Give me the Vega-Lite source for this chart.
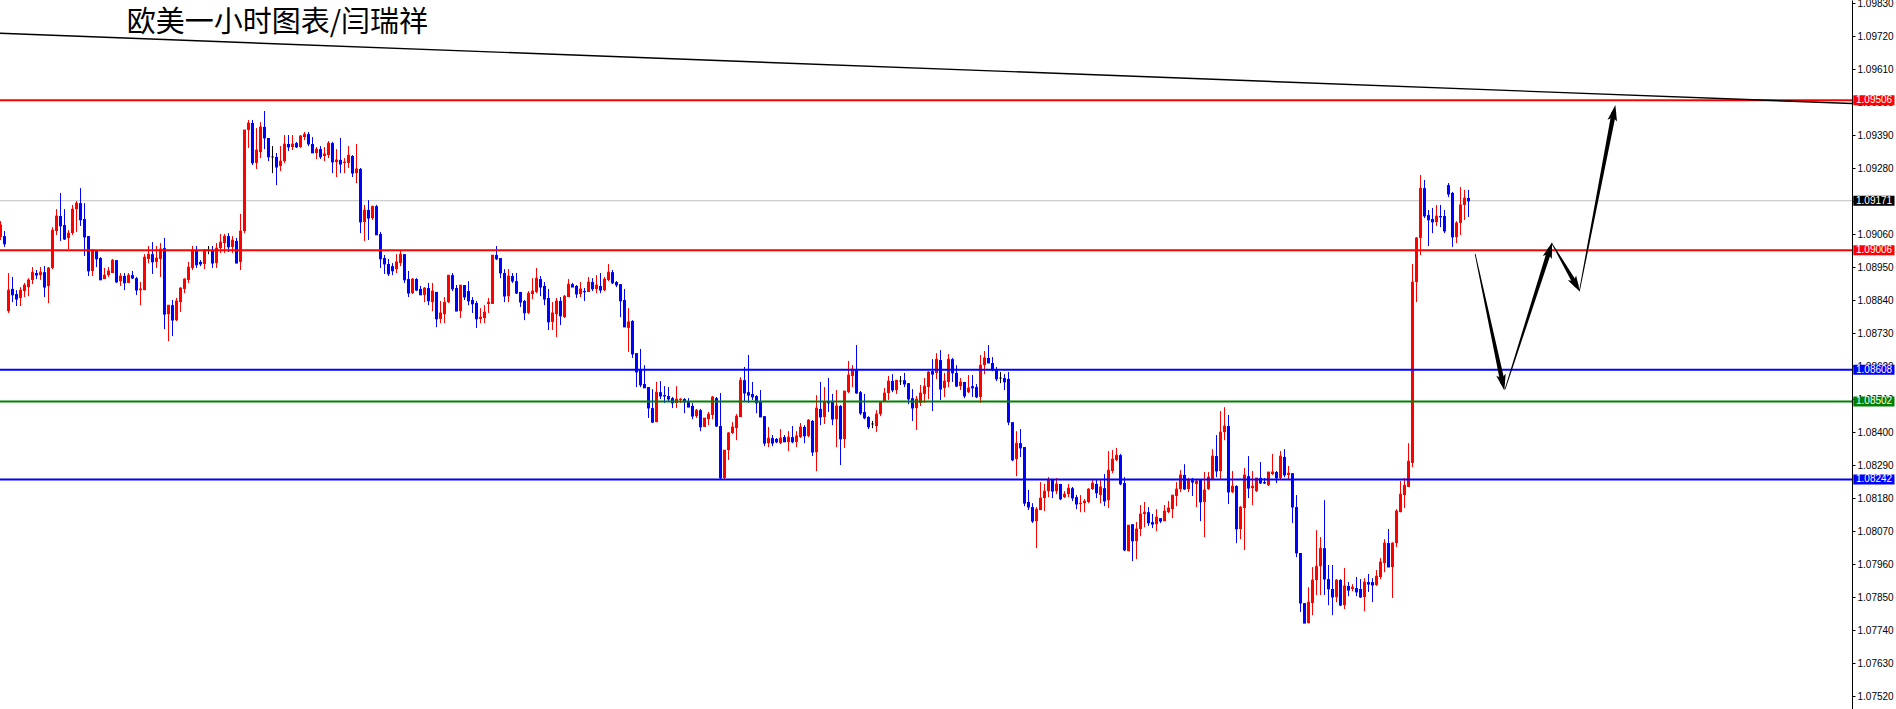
{
"$schema":"https://vega.github.io/schema/vega-lite/v6.json",
"width":1852,"height":709,"autosize":"none",
"padding":{"left":0,"top":0,"right":44,"bottom":0},
"background":"#ffffff",
"config":{"view":{"stroke":null},"scale":{"continuousPadding":0}},
"resolve":{"axis":{"x":"independent","y":"independent"}},
"datasets":{
"k":[
{"i":0,"o":1.09050,"h":1.09103,"l":1.09040,"c":1.09090},
{"i":1,"o":1.09053,"h":1.09070,"l":1.09017,"c":1.09027},
{"i":2,"o":1.08803,"h":1.08930,"l":1.08797,"c":1.08873},
{"i":3,"o":1.08877,"h":1.08917,"l":1.08833,"c":1.08857},
{"i":4,"o":1.08860,"h":1.08873,"l":1.08820,"c":1.08843},
{"i":5,"o":1.08847,"h":1.08883,"l":1.08820,"c":1.08873},
{"i":6,"o":1.08870,"h":1.08897,"l":1.08850,"c":1.08890},
{"i":7,"o":1.08883,"h":1.08913,"l":1.08853,"c":1.08907},
{"i":8,"o":1.08907,"h":1.08950,"l":1.08893,"c":1.08933},
{"i":9,"o":1.08930,"h":1.08940,"l":1.08910,"c":1.08923},
{"i":10,"o":1.08923,"h":1.08950,"l":1.08907,"c":1.08933},
{"i":11,"o":1.08933,"h":1.08953,"l":1.08850,"c":1.08883},
{"i":12,"o":1.08887,"h":1.08950,"l":1.08830,"c":1.08947},
{"i":13,"o":1.08947,"h":1.09083,"l":1.08943,"c":1.09073},
{"i":14,"o":1.09070,"h":1.09143,"l":1.09057,"c":1.09120},
{"i":15,"o":1.09120,"h":1.09197,"l":1.09037,"c":1.09087},
{"i":16,"o":1.09090,"h":1.09143,"l":1.09040,"c":1.09043},
{"i":17,"o":1.09047,"h":1.09073,"l":1.09010,"c":1.09063},
{"i":18,"o":1.09063,"h":1.09157,"l":1.09057,"c":1.09143},
{"i":19,"o":1.09143,"h":1.09170,"l":1.09067,"c":1.09163},
{"i":20,"o":1.09163,"h":1.09213,"l":1.09087,"c":1.09107},
{"i":21,"o":1.09110,"h":1.09163,"l":1.08987,"c":1.09050},
{"i":22,"o":1.09053,"h":1.09053,"l":1.08920,"c":1.08937},
{"i":23,"o":1.08937,"h":1.09007,"l":1.08920,"c":1.09007},
{"i":24,"o":1.09003,"h":1.09007,"l":1.08950,"c":1.08977},
{"i":25,"o":1.08980,"h":1.08983,"l":1.08907,"c":1.08907},
{"i":26,"o":1.08910,"h":1.08947,"l":1.08910,"c":1.08923},
{"i":27,"o":1.08923,"h":1.08950,"l":1.08917,"c":1.08937},
{"i":28,"o":1.08930,"h":1.08977,"l":1.08930,"c":1.08973},
{"i":29,"o":1.08973,"h":1.08973,"l":1.08897,"c":1.08900},
{"i":30,"o":1.08903,"h":1.08930,"l":1.08887,"c":1.08920},
{"i":31,"o":1.08920,"h":1.08930,"l":1.08873,"c":1.08897},
{"i":32,"o":1.08897,"h":1.08930,"l":1.08897,"c":1.08923},
{"i":33,"o":1.08923,"h":1.08937,"l":1.08910,"c":1.08913},
{"i":34,"o":1.08913,"h":1.08917,"l":1.08857,"c":1.08873},
{"i":35,"o":1.08873,"h":1.08900,"l":1.08823,"c":1.08877},
{"i":36,"o":1.08873,"h":1.08993,"l":1.08873,"c":1.08983},
{"i":37,"o":1.08977,"h":1.09020,"l":1.08963,"c":1.08993},
{"i":38,"o":1.08993,"h":1.09033,"l":1.08927,"c":1.08967},
{"i":39,"o":1.08967,"h":1.09020,"l":1.08947,"c":1.08980},
{"i":40,"o":1.08977,"h":1.09030,"l":1.08917,"c":1.09010},
{"i":41,"o":1.09013,"h":1.09047,"l":1.08743,"c":1.08793},
{"i":42,"o":1.08793,"h":1.08823,"l":1.08703,"c":1.08823},
{"i":43,"o":1.08823,"h":1.08840,"l":1.08720,"c":1.08773},
{"i":44,"o":1.08773,"h":1.08847,"l":1.08770,"c":1.08837},
{"i":45,"o":1.08833,"h":1.08883,"l":1.08800,"c":1.08880},
{"i":46,"o":1.08877,"h":1.08913,"l":1.08863,"c":1.08910},
{"i":47,"o":1.08907,"h":1.08967,"l":1.08897,"c":1.08950},
{"i":48,"o":1.08947,"h":1.09020,"l":1.08940,"c":1.09007},
{"i":49,"o":1.09007,"h":1.09020,"l":1.08947,"c":1.08957},
{"i":50,"o":1.08967,"h":1.08973,"l":1.08953,"c":1.08960},
{"i":51,"o":1.08960,"h":1.09010,"l":1.08943,"c":1.09007},
{"i":52,"o":1.09007,"h":1.09020,"l":1.08993,"c":1.09007},
{"i":53,"o":1.09007,"h":1.09020,"l":1.08947,"c":1.08963},
{"i":54,"o":1.08963,"h":1.09030,"l":1.08947,"c":1.09013},
{"i":55,"o":1.09013,"h":1.09060,"l":1.08997,"c":1.09033},
{"i":56,"o":1.09030,"h":1.09060,"l":1.08997,"c":1.09053},
{"i":57,"o":1.09053,"h":1.09063,"l":1.09000,"c":1.09017},
{"i":58,"o":1.09017,"h":1.09053,"l":1.08997,"c":1.09040},
{"i":59,"o":1.09037,"h":1.09047,"l":1.08963,"c":1.08963},
{"i":60,"o":1.08967,"h":1.09127,"l":1.08940,"c":1.09070},
{"i":61,"o":1.09070,"h":1.09407,"l":1.09063,"c":1.09407},
{"i":62,"o":1.09407,"h":1.09440,"l":1.09347,"c":1.09430},
{"i":63,"o":1.09430,"h":1.09440,"l":1.09290,"c":1.09297},
{"i":64,"o":1.09297,"h":1.09413,"l":1.09277,"c":1.09340},
{"i":65,"o":1.09333,"h":1.09433,"l":1.09313,"c":1.09417},
{"i":66,"o":1.09417,"h":1.09470,"l":1.09343,"c":1.09380},
{"i":67,"o":1.09380,"h":1.09380,"l":1.09303,"c":1.09317},
{"i":68,"o":1.09317,"h":1.09353,"l":1.09263,"c":1.09317},
{"i":69,"o":1.09317,"h":1.09330,"l":1.09223,"c":1.09283},
{"i":70,"o":1.09287,"h":1.09353,"l":1.09270,"c":1.09303},
{"i":71,"o":1.09303,"h":1.09390,"l":1.09297,"c":1.09360},
{"i":72,"o":1.09360,"h":1.09390,"l":1.09337,"c":1.09350},
{"i":73,"o":1.09350,"h":1.09390,"l":1.09340,"c":1.09360},
{"i":74,"o":1.09363,"h":1.09367,"l":1.09347,"c":1.09350},
{"i":75,"o":1.09350,"h":1.09390,"l":1.09347,"c":1.09387},
{"i":76,"o":1.09383,"h":1.09400,"l":1.09373,"c":1.09393},
{"i":77,"o":1.09393,"h":1.09400,"l":1.09353,"c":1.09360},
{"i":78,"o":1.09360,"h":1.09383,"l":1.09330,"c":1.09330},
{"i":79,"o":1.09330,"h":1.09350,"l":1.09310,"c":1.09343},
{"i":80,"o":1.09343,"h":1.09353,"l":1.09310,"c":1.09317},
{"i":81,"o":1.09320,"h":1.09350,"l":1.09303,"c":1.09327},
{"i":82,"o":1.09323,"h":1.09370,"l":1.09313,"c":1.09363},
{"i":83,"o":1.09363,"h":1.09367,"l":1.09263,"c":1.09300},
{"i":84,"o":1.09300,"h":1.09343,"l":1.09250,"c":1.09307},
{"i":85,"o":1.09307,"h":1.09380,"l":1.09263,"c":1.09293},
{"i":86,"o":1.09297,"h":1.09313,"l":1.09263,"c":1.09300},
{"i":87,"o":1.09297,"h":1.09353,"l":1.09280,"c":1.09323},
{"i":88,"o":1.09320,"h":1.09323,"l":1.09250,"c":1.09263},
{"i":89,"o":1.09263,"h":1.09360,"l":1.09230,"c":1.09277},
{"i":90,"o":1.09277,"h":1.09280,"l":1.09063,"c":1.09100},
{"i":91,"o":1.09100,"h":1.09157,"l":1.09037,"c":1.09140},
{"i":92,"o":1.09140,"h":1.09173,"l":1.09040,"c":1.09113},
{"i":93,"o":1.09113,"h":1.09153,"l":1.09107,"c":1.09153},
{"i":94,"o":1.09153,"h":1.09157,"l":1.09057,"c":1.09057},
{"i":95,"o":1.09060,"h":1.09067,"l":1.08947,"c":1.08977},
{"i":96,"o":1.08980,"h":1.08990,"l":1.08927,"c":1.08960},
{"i":97,"o":1.08960,"h":1.08977,"l":1.08920,"c":1.08927},
{"i":98,"o":1.08953,"h":1.08963,"l":1.08923,"c":1.08937},
{"i":99,"o":1.08943,"h":1.08993,"l":1.08930,"c":1.08967},
{"i":100,"o":1.08963,"h":1.09007,"l":1.08953,"c":1.08993},
{"i":101,"o":1.08993,"h":1.08993,"l":1.08897,"c":1.08907},
{"i":102,"o":1.08910,"h":1.08937,"l":1.08850,"c":1.08863},
{"i":103,"o":1.08863,"h":1.08913,"l":1.08860,"c":1.08910},
{"i":104,"o":1.08910,"h":1.08913,"l":1.08870,"c":1.08873},
{"i":105,"o":1.08877,"h":1.08887,"l":1.08857,"c":1.08857},
{"i":106,"o":1.08857,"h":1.08883,"l":1.08833,"c":1.08880},
{"i":107,"o":1.08880,"h":1.08897,"l":1.08823,"c":1.08837},
{"i":108,"o":1.08833,"h":1.08897,"l":1.08803,"c":1.08870},
{"i":109,"o":1.08867,"h":1.08867,"l":1.08750,"c":1.08777},
{"i":110,"o":1.08777,"h":1.08837,"l":1.08763,"c":1.08797},
{"i":111,"o":1.08793,"h":1.08850,"l":1.08763,"c":1.08833},
{"i":112,"o":1.08833,"h":1.08923,"l":1.08830,"c":1.08923},
{"i":113,"o":1.08923,"h":1.08930,"l":1.08870,"c":1.08877},
{"i":114,"o":1.08880,"h":1.08890,"l":1.08803,"c":1.08803},
{"i":115,"o":1.08803,"h":1.08890,"l":1.08780,"c":1.08890},
{"i":116,"o":1.08890,"h":1.08890,"l":1.08840,"c":1.08850},
{"i":117,"o":1.08870,"h":1.08903,"l":1.08823,"c":1.08837},
{"i":118,"o":1.08840,"h":1.08850,"l":1.08797,"c":1.08827},
{"i":119,"o":1.08830,"h":1.08837,"l":1.08747,"c":1.08777},
{"i":120,"o":1.08777,"h":1.08813,"l":1.08763,"c":1.08783},
{"i":121,"o":1.08780,"h":1.08823,"l":1.08763,"c":1.08800},
{"i":122,"o":1.08827,"h":1.08847,"l":1.08797,"c":1.08833},
{"i":123,"o":1.08827,"h":1.08990,"l":1.08827,"c":1.08990},
{"i":124,"o":1.08990,"h":1.09020,"l":1.08973,"c":1.08977},
{"i":125,"o":1.08980,"h":1.08980,"l":1.08913,"c":1.08930},
{"i":126,"o":1.08930,"h":1.08943,"l":1.08833,"c":1.08853},
{"i":127,"o":1.08853,"h":1.08943,"l":1.08833,"c":1.08920},
{"i":128,"o":1.08920,"h":1.08930,"l":1.08897,"c":1.08903},
{"i":129,"o":1.08903,"h":1.08930,"l":1.08860,"c":1.08863},
{"i":130,"o":1.08867,"h":1.08867,"l":1.08817,"c":1.08833},
{"i":131,"o":1.08837,"h":1.08840,"l":1.08773,"c":1.08797},
{"i":132,"o":1.08797,"h":1.08870,"l":1.08793,"c":1.08863},
{"i":133,"o":1.08860,"h":1.08913,"l":1.08843,"c":1.08870},
{"i":134,"o":1.08867,"h":1.08947,"l":1.08863,"c":1.08913},
{"i":135,"o":1.08910,"h":1.08920,"l":1.08853,"c":1.08883},
{"i":136,"o":1.08887,"h":1.08900,"l":1.08823,"c":1.08843},
{"i":137,"o":1.08847,"h":1.08877,"l":1.08740,"c":1.08767},
{"i":138,"o":1.08767,"h":1.08833,"l":1.08740,"c":1.08797},
{"i":139,"o":1.08793,"h":1.08847,"l":1.08717,"c":1.08837},
{"i":140,"o":1.08837,"h":1.08850,"l":1.08757,"c":1.08787},
{"i":141,"o":1.08783,"h":1.08857,"l":1.08780,"c":1.08853},
{"i":142,"o":1.08850,"h":1.08910,"l":1.08850,"c":1.08893},
{"i":143,"o":1.08893,"h":1.08897,"l":1.08883,"c":1.08883},
{"i":144,"o":1.08887,"h":1.08890,"l":1.08847,"c":1.08860},
{"i":145,"o":1.08860,"h":1.08900,"l":1.08850,"c":1.08877},
{"i":146,"o":1.08870,"h":1.08880,"l":1.08837,"c":1.08867},
{"i":147,"o":1.08867,"h":1.08917,"l":1.08867,"c":1.08900},
{"i":148,"o":1.08900,"h":1.08913,"l":1.08870,"c":1.08877},
{"i":149,"o":1.08877,"h":1.08923,"l":1.08863,"c":1.08890},
{"i":150,"o":1.08887,"h":1.08930,"l":1.08863,"c":1.08873},
{"i":151,"o":1.08873,"h":1.08917,"l":1.08870,"c":1.08910},
{"i":152,"o":1.08907,"h":1.08960,"l":1.08903,"c":1.08933},
{"i":153,"o":1.08933,"h":1.08940,"l":1.08893,"c":1.08897},
{"i":154,"o":1.08900,"h":1.08903,"l":1.08883,"c":1.08890},
{"i":155,"o":1.08893,"h":1.08893,"l":1.08783,"c":1.08837},
{"i":156,"o":1.08840,"h":1.08877,"l":1.08750,"c":1.08750},
{"i":157,"o":1.08747,"h":1.08813,"l":1.08667,"c":1.08767},
{"i":158,"o":1.08770,"h":1.08773,"l":1.08647,"c":1.08660},
{"i":159,"o":1.08663,"h":1.08663,"l":1.08550,"c":1.08600},
{"i":160,"o":1.08607,"h":1.08677,"l":1.08550,"c":1.08557},
{"i":161,"o":1.08560,"h":1.08623,"l":1.08547,"c":1.08547},
{"i":162,"o":1.08550,"h":1.08550,"l":1.08447,"c":1.08480},
{"i":163,"o":1.08480,"h":1.08543,"l":1.08430,"c":1.08433},
{"i":164,"o":1.08433,"h":1.08567,"l":1.08433,"c":1.08533},
{"i":165,"o":1.08533,"h":1.08570,"l":1.08510,"c":1.08520},
{"i":166,"o":1.08523,"h":1.08553,"l":1.08497,"c":1.08520},
{"i":167,"o":1.08520,"h":1.08550,"l":1.08503,"c":1.08510},
{"i":168,"o":1.08513,"h":1.08517,"l":1.08480,"c":1.08497},
{"i":169,"o":1.08497,"h":1.08553,"l":1.08480,"c":1.08510},
{"i":170,"o":1.08507,"h":1.08513,"l":1.08497,"c":1.08510},
{"i":171,"o":1.08510,"h":1.08513,"l":1.08463,"c":1.08500},
{"i":172,"o":1.08500,"h":1.08513,"l":1.08483,"c":1.08483},
{"i":173,"o":1.08487,"h":1.08497,"l":1.08443,"c":1.08453},
{"i":174,"o":1.08453,"h":1.08477,"l":1.08447,"c":1.08473},
{"i":175,"o":1.08473,"h":1.08477,"l":1.08403,"c":1.08417},
{"i":176,"o":1.08417,"h":1.08447,"l":1.08417,"c":1.08447},
{"i":177,"o":1.08443,"h":1.08467,"l":1.08423,"c":1.08460},
{"i":178,"o":1.08457,"h":1.08520,"l":1.08443,"c":1.08517},
{"i":179,"o":1.08513,"h":1.08517,"l":1.08417,"c":1.08420},
{"i":180,"o":1.08420,"h":1.08530,"l":1.08240,"c":1.08247},
{"i":181,"o":1.08247,"h":1.08340,"l":1.08240,"c":1.08340},
{"i":182,"o":1.08340,"h":1.08400,"l":1.08307,"c":1.08397},
{"i":183,"o":1.08397,"h":1.08433,"l":1.08393,"c":1.08417},
{"i":184,"o":1.08413,"h":1.08460,"l":1.08373,"c":1.08453},
{"i":185,"o":1.08450,"h":1.08583,"l":1.08450,"c":1.08573},
{"i":186,"o":1.08573,"h":1.08617,"l":1.08500,"c":1.08530},
{"i":187,"o":1.08533,"h":1.08657,"l":1.08497,"c":1.08523},
{"i":188,"o":1.08527,"h":1.08567,"l":1.08507,"c":1.08517},
{"i":189,"o":1.08520,"h":1.08523,"l":1.08463,"c":1.08497},
{"i":190,"o":1.08503,"h":1.08540,"l":1.08450,"c":1.08450},
{"i":191,"o":1.08453,"h":1.08453,"l":1.08353,"c":1.08363},
{"i":192,"o":1.08363,"h":1.08417,"l":1.08350,"c":1.08380},
{"i":193,"o":1.08380,"h":1.08390,"l":1.08353,"c":1.08363},
{"i":194,"o":1.08377,"h":1.08380,"l":1.08363,"c":1.08367},
{"i":195,"o":1.08363,"h":1.08410,"l":1.08360,"c":1.08380},
{"i":196,"o":1.08383,"h":1.08390,"l":1.08367,"c":1.08367},
{"i":197,"o":1.08367,"h":1.08403,"l":1.08337,"c":1.08383},
{"i":198,"o":1.08383,"h":1.08420,"l":1.08363,"c":1.08367},
{"i":199,"o":1.08367,"h":1.08403,"l":1.08350,"c":1.08387},
{"i":200,"o":1.08383,"h":1.08430,"l":1.08380,"c":1.08417},
{"i":201,"o":1.08417,"h":1.08423,"l":1.08363,"c":1.08387},
{"i":202,"o":1.08387,"h":1.08443,"l":1.08383,"c":1.08440},
{"i":203,"o":1.08437,"h":1.08440,"l":1.08320,"c":1.08333},
{"i":204,"o":1.08333,"h":1.08523,"l":1.08270,"c":1.08480},
{"i":205,"o":1.08477,"h":1.08567,"l":1.08423,"c":1.08450},
{"i":206,"o":1.08450,"h":1.08550,"l":1.08427,"c":1.08500},
{"i":207,"o":1.08500,"h":1.08580,"l":1.08467,"c":1.08497},
{"i":208,"o":1.08500,"h":1.08527,"l":1.08423,"c":1.08443},
{"i":209,"o":1.08443,"h":1.08540,"l":1.08350,"c":1.08487},
{"i":210,"o":1.08487,"h":1.08490,"l":1.08290,"c":1.08377},
{"i":211,"o":1.08377,"h":1.08537,"l":1.08347,"c":1.08537},
{"i":212,"o":1.08533,"h":1.08637,"l":1.08530,"c":1.08590},
{"i":213,"o":1.08587,"h":1.08623,"l":1.08550,"c":1.08610},
{"i":214,"o":1.08610,"h":1.08690,"l":1.08527,"c":1.08530},
{"i":215,"o":1.08533,"h":1.08537,"l":1.08457,"c":1.08463},
{"i":216,"o":1.08467,"h":1.08527,"l":1.08443,"c":1.08447},
{"i":217,"o":1.08450,"h":1.08453,"l":1.08410,"c":1.08417},
{"i":218,"o":1.08427,"h":1.08437,"l":1.08413,"c":1.08427},
{"i":219,"o":1.08420,"h":1.08473,"l":1.08400,"c":1.08460},
{"i":220,"o":1.08460,"h":1.08503,"l":1.08453,"c":1.08500},
{"i":221,"o":1.08500,"h":1.08547,"l":1.08500,"c":1.08530},
{"i":222,"o":1.08530,"h":1.08587,"l":1.08507,"c":1.08570},
{"i":223,"o":1.08570,"h":1.08593,"l":1.08533,"c":1.08540},
{"i":224,"o":1.08540,"h":1.08573,"l":1.08527,"c":1.08573},
{"i":225,"o":1.08570,"h":1.08587,"l":1.08557,"c":1.08570},
{"i":226,"o":1.08573,"h":1.08597,"l":1.08550,"c":1.08560},
{"i":227,"o":1.08563,"h":1.08563,"l":1.08493,"c":1.08510},
{"i":228,"o":1.08513,"h":1.08543,"l":1.08437,"c":1.08480},
{"i":229,"o":1.08480,"h":1.08520,"l":1.08407,"c":1.08510},
{"i":230,"o":1.08497,"h":1.08557,"l":1.08487,"c":1.08530},
{"i":231,"o":1.08527,"h":1.08580,"l":1.08497,"c":1.08553},
{"i":232,"o":1.08550,"h":1.08603,"l":1.08510,"c":1.08600},
{"i":233,"o":1.08603,"h":1.08643,"l":1.08470,"c":1.08593},
{"i":234,"o":1.08597,"h":1.08663,"l":1.08577,"c":1.08643},
{"i":235,"o":1.08640,"h":1.08673,"l":1.08507,"c":1.08543},
{"i":236,"o":1.08547,"h":1.08597,"l":1.08517,"c":1.08570},
{"i":237,"o":1.08567,"h":1.08660,"l":1.08550,"c":1.08643},
{"i":238,"o":1.08643,"h":1.08647,"l":1.08567,"c":1.08597},
{"i":239,"o":1.08597,"h":1.08623,"l":1.08550,"c":1.08553},
{"i":240,"o":1.08553,"h":1.08580,"l":1.08540,"c":1.08567},
{"i":241,"o":1.08567,"h":1.08567,"l":1.08513,"c":1.08520},
{"i":242,"o":1.08533,"h":1.08590,"l":1.08530,"c":1.08547},
{"i":243,"o":1.08553,"h":1.08590,"l":1.08517,"c":1.08547},
{"i":244,"o":1.08550,"h":1.08560,"l":1.08513,"c":1.08517},
{"i":245,"o":1.08517,"h":1.08657,"l":1.08497,"c":1.08623},
{"i":246,"o":1.08623,"h":1.08670,"l":1.08593,"c":1.08647},
{"i":247,"o":1.08647,"h":1.08690,"l":1.08630,"c":1.08630},
{"i":248,"o":1.08630,"h":1.08650,"l":1.08603,"c":1.08607},
{"i":249,"o":1.08610,"h":1.08617,"l":1.08570,"c":1.08577},
{"i":250,"o":1.08580,"h":1.08600,"l":1.08563,"c":1.08580},
{"i":251,"o":1.08580,"h":1.08593,"l":1.08540,"c":1.08567},
{"i":252,"o":1.08577,"h":1.08600,"l":1.08423,"c":1.08433},
{"i":253,"o":1.08433,"h":1.08433,"l":1.08303,"c":1.08307},
{"i":254,"o":1.08310,"h":1.08403,"l":1.08253,"c":1.08363},
{"i":255,"o":1.08363,"h":1.08410,"l":1.08317,"c":1.08347},
{"i":256,"o":1.08350,"h":1.08350,"l":1.08153,"c":1.08163},
{"i":257,"o":1.08167,"h":1.08207,"l":1.08140,"c":1.08150},
{"i":258,"o":1.08150,"h":1.08163,"l":1.08097,"c":1.08103},
{"i":259,"o":1.08103,"h":1.08150,"l":1.08013,"c":1.08143},
{"i":260,"o":1.08140,"h":1.08233,"l":1.08140,"c":1.08180},
{"i":261,"o":1.08180,"h":1.08227,"l":1.08137,"c":1.08203},
{"i":262,"o":1.08203,"h":1.08250,"l":1.08183,"c":1.08240},
{"i":263,"o":1.08240,"h":1.08240,"l":1.08180,"c":1.08203},
{"i":264,"o":1.08203,"h":1.08247,"l":1.08193,"c":1.08227},
{"i":265,"o":1.08227,"h":1.08227,"l":1.08173,"c":1.08177},
{"i":266,"o":1.08183,"h":1.08203,"l":1.08180,"c":1.08193},
{"i":267,"o":1.08193,"h":1.08227,"l":1.08183,"c":1.08213},
{"i":268,"o":1.08213,"h":1.08217,"l":1.08170,"c":1.08180},
{"i":269,"o":1.08183,"h":1.08190,"l":1.08143,"c":1.08160},
{"i":270,"o":1.08160,"h":1.08190,"l":1.08133,"c":1.08163},
{"i":271,"o":1.08163,"h":1.08177,"l":1.08133,"c":1.08170},
{"i":272,"o":1.08167,"h":1.08213,"l":1.08163,"c":1.08210},
{"i":273,"o":1.08210,"h":1.08243,"l":1.08207,"c":1.08230},
{"i":274,"o":1.08227,"h":1.08243,"l":1.08180,"c":1.08197},
{"i":275,"o":1.08190,"h":1.08243,"l":1.08163,"c":1.08217},
{"i":276,"o":1.08213,"h":1.08260,"l":1.08153,"c":1.08170},
{"i":277,"o":1.08173,"h":1.08337,"l":1.08147,"c":1.08273},
{"i":278,"o":1.08270,"h":1.08340,"l":1.08263,"c":1.08310},
{"i":279,"o":1.08307,"h":1.08347,"l":1.08303,"c":1.08323},
{"i":280,"o":1.08323,"h":1.08327,"l":1.08223,"c":1.08227},
{"i":281,"o":1.08230,"h":1.08250,"l":1.08003,"c":1.08007},
{"i":282,"o":1.08003,"h":1.08090,"l":1.08003,"c":1.08090},
{"i":283,"o":1.08093,"h":1.08093,"l":1.07970,"c":1.08037},
{"i":284,"o":1.08037,"h":1.08100,"l":1.07977,"c":1.08077},
{"i":285,"o":1.08077,"h":1.08157,"l":1.08053,"c":1.08127},
{"i":286,"o":1.08127,"h":1.08167,"l":1.08083,"c":1.08133},
{"i":287,"o":1.08133,"h":1.08150,"l":1.08087,"c":1.08097},
{"i":288,"o":1.08100,"h":1.08127,"l":1.08080,"c":1.08093},
{"i":289,"o":1.08093,"h":1.08143,"l":1.08070,"c":1.08117},
{"i":290,"o":1.08113,"h":1.08113,"l":1.08097,"c":1.08103},
{"i":291,"o":1.08103,"h":1.08157,"l":1.08103,"c":1.08137},
{"i":292,"o":1.08133,"h":1.08170,"l":1.08130,"c":1.08147},
{"i":293,"o":1.08143,"h":1.08190,"l":1.08113,"c":1.08190},
{"i":294,"o":1.08187,"h":1.08233,"l":1.08153,"c":1.08210},
{"i":295,"o":1.08210,"h":1.08273,"l":1.08200,"c":1.08257},
{"i":296,"o":1.08257,"h":1.08293,"l":1.08207,"c":1.08210},
{"i":297,"o":1.08210,"h":1.08247,"l":1.08200,"c":1.08240},
{"i":298,"o":1.08240,"h":1.08247,"l":1.08187,"c":1.08233},
{"i":299,"o":1.08227,"h":1.08240,"l":1.08150,"c":1.08237},
{"i":300,"o":1.08243,"h":1.08243,"l":1.08103,"c":1.08167},
{"i":301,"o":1.08167,"h":1.08267,"l":1.08050,"c":1.08207},
{"i":302,"o":1.08210,"h":1.08267,"l":1.08207,"c":1.08250},
{"i":303,"o":1.08243,"h":1.08343,"l":1.08240,"c":1.08320},
{"i":304,"o":1.08320,"h":1.08390,"l":1.08250,"c":1.08270},
{"i":305,"o":1.08270,"h":1.08470,"l":1.08240,"c":1.08400},
{"i":306,"o":1.08400,"h":1.08483,"l":1.08373,"c":1.08420},
{"i":307,"o":1.08420,"h":1.08457,"l":1.08160,"c":1.08200},
{"i":308,"o":1.08200,"h":1.08270,"l":1.08197,"c":1.08220},
{"i":309,"o":1.08220,"h":1.08223,"l":1.08030,"c":1.08077},
{"i":310,"o":1.08077,"h":1.08153,"l":1.08043,"c":1.08150},
{"i":311,"o":1.08147,"h":1.08280,"l":1.08007,"c":1.08257},
{"i":312,"o":1.08253,"h":1.08320,"l":1.08180,"c":1.08213},
{"i":313,"o":1.08213,"h":1.08270,"l":1.08157,"c":1.08220},
{"i":314,"o":1.08203,"h":1.08247,"l":1.08200,"c":1.08247},
{"i":315,"o":1.08247,"h":1.08300,"l":1.08227,"c":1.08230},
{"i":316,"o":1.08233,"h":1.08247,"l":1.08227,"c":1.08230},
{"i":317,"o":1.08223,"h":1.08267,"l":1.08220,"c":1.08267},
{"i":318,"o":1.08260,"h":1.08327,"l":1.08257,"c":1.08267},
{"i":319,"o":1.08267,"h":1.08270,"l":1.08230,"c":1.08247},
{"i":320,"o":1.08247,"h":1.08337,"l":1.08240,"c":1.08320},
{"i":321,"o":1.08317,"h":1.08343,"l":1.08250,"c":1.08257},
{"i":322,"o":1.08257,"h":1.08287,"l":1.08243,"c":1.08263},
{"i":323,"o":1.08263,"h":1.08263,"l":1.08097,"c":1.08150},
{"i":324,"o":1.08150,"h":1.08190,"l":1.07983,"c":1.07997},
{"i":325,"o":1.07997,"h":1.07997,"l":1.07800,"c":1.07830},
{"i":326,"o":1.07830,"h":1.07830,"l":1.07763,"c":1.07763},
{"i":327,"o":1.07763,"h":1.07883,"l":1.07763,"c":1.07833},
{"i":328,"o":1.07830,"h":1.07950,"l":1.07790,"c":1.07907},
{"i":329,"o":1.07907,"h":1.08073,"l":1.07857,"c":1.07953},
{"i":330,"o":1.07953,"h":1.08050,"l":1.07857,"c":1.08013},
{"i":331,"o":1.08013,"h":1.08173,"l":1.07857,"c":1.07910},
{"i":332,"o":1.07910,"h":1.07957,"l":1.07823,"c":1.07877},
{"i":333,"o":1.07877,"h":1.07957,"l":1.07790,"c":1.07850},
{"i":334,"o":1.07850,"h":1.07910,"l":1.07833,"c":1.07907},
{"i":335,"o":1.07907,"h":1.07910,"l":1.07820,"c":1.07823},
{"i":336,"o":1.07823,"h":1.07947,"l":1.07810,"c":1.07887},
{"i":337,"o":1.07887,"h":1.07900,"l":1.07853,"c":1.07873},
{"i":338,"o":1.07877,"h":1.07893,"l":1.07870,"c":1.07883},
{"i":339,"o":1.07880,"h":1.07917,"l":1.07853,"c":1.07867},
{"i":340,"o":1.07877,"h":1.07910,"l":1.07847,"c":1.07850},
{"i":341,"o":1.07850,"h":1.07913,"l":1.07803,"c":1.07900},
{"i":342,"o":1.07900,"h":1.07927,"l":1.07867,"c":1.07893},
{"i":343,"o":1.07900,"h":1.07913,"l":1.07833,"c":1.07890},
{"i":344,"o":1.07890,"h":1.07940,"l":1.07887,"c":1.07920},
{"i":345,"o":1.07917,"h":1.07980,"l":1.07910,"c":1.07967},
{"i":346,"o":1.07963,"h":1.08043,"l":1.07933,"c":1.08030},
{"i":347,"o":1.08030,"h":1.08077,"l":1.07950,"c":1.07950},
{"i":348,"o":1.07950,"h":1.08033,"l":1.07847,"c":1.08030},
{"i":349,"o":1.08030,"h":1.08143,"l":1.08017,"c":1.08137},
{"i":350,"o":1.08133,"h":1.08237,"l":1.08133,"c":1.08193},
{"i":351,"o":1.08190,"h":1.08247,"l":1.08147,"c":1.08223},
{"i":352,"o":1.08217,"h":1.08363,"l":1.08217,"c":1.08303},
{"i":353,"o":1.08297,"h":1.08960,"l":1.08283,"c":1.08900},
{"i":354,"o":1.08900,"h":1.09050,"l":1.08833,"c":1.09047},
{"i":355,"o":1.09047,"h":1.09257,"l":1.08990,"c":1.09213},
{"i":356,"o":1.09213,"h":1.09240,"l":1.09113,"c":1.09120},
{"i":357,"o":1.09123,"h":1.09140,"l":1.09020,"c":1.09107},
{"i":358,"o":1.09110,"h":1.09147,"l":1.09063,"c":1.09100},
{"i":359,"o":1.09100,"h":1.09157,"l":1.09087,"c":1.09120},
{"i":360,"o":1.09120,"h":1.09157,"l":1.09083,"c":1.09117},
{"i":361,"o":1.09120,"h":1.09140,"l":1.09063,"c":1.09070},
{"i":362,"o":1.09223,"h":1.09230,"l":1.09183,"c":1.09193},
{"i":363,"o":1.09197,"h":1.09200,"l":1.09017,"c":1.09050},
{"i":364,"o":1.09050,"h":1.09103,"l":1.09030,"c":1.09097},
{"i":365,"o":1.09097,"h":1.09217,"l":1.09057,"c":1.09157},
{"i":366,"o":1.09157,"h":1.09207,"l":1.09107,"c":1.09180},
{"i":367,"o":1.09180,"h":1.09207,"l":1.09117,"c":1.09170}
],
"lv":[
{"lab":"1.09506","p":1.09506},
{"lab":"1.09171","p":1.09171},
{"lab":"1.09006","p":1.09006},
{"lab":"1.08608","p":1.08608},
{"lab":"1.08502","p":1.08502},
{"lab":"1.08242","p":1.08242}
],
"tr":[{"i":-0.125,"p":1.09729},{"i":462.875,"p":1.09495}],
"ar":[
{"seg":"a","k":0,"i":368.67,"p":1.08993},{"seg":"a","k":1,"i":375.54,"p":1.08565},
{"seg":"b","k":0,"i":376.17,"p":1.08544},{"seg":"b","k":1,"i":387.3,"p":1.09007},
{"seg":"c","k":0,"i":387.84,"p":1.09029},{"seg":"c","k":1,"i":393.87,"p":1.08891},
{"seg":"d","k":0,"i":394.74,"p":1.08871},{"seg":"d","k":1,"i":403.33,"p":1.09464}
],
"hd":[
{"i":375.54,"p":1.08565,"ang":167.9},
{"i":387.3,"p":1.09007,"ang":17.8},
{"i":393.87,"p":1.08891,"ang":149.7},
{"i":403.33,"p":1.09464,"ang":11.1}
]
},
"layer":[
{"data":{"values":[{}]},"mark":{"type":"rule","color":"#c0c0c0","strokeWidth":1},
 "encoding":{"y":{"datum":1.09171,"type":"quantitative","scale":{"domain":[1.07477,1.0984],"nice":false,"zero":false,"padding":0},
  "axis":{"orient":"right","zindex":0,"values":[1.0752,1.0763,1.0774,1.0785,1.0796,1.0807,1.0818,1.0829,1.084,1.0851,1.0862,1.0873,1.0884,1.0895,1.0906,1.0917,1.0928,1.0939,1.095,1.0961,1.0972,1.0983],
  "format":".5f","title":null,"grid":false,"labelFont":"Liberation Sans","labelFontSize":10,"labelColor":"#000000","tickColor":"#000000","tickSize":3,"tickWidth":1,"domainColor":"#000000","domainWidth":1,"labelPadding":2,"labelOverlap":false,"labelFlush":false,"labelBound":false}}}},
{"data":{"name":"k"},"mark":{"type":"rule","strokeWidth":1},
 "encoding":{"x":{"field":"i","type":"quantitative","scale":{"domain":[-0.125,462.875],"nice":false,"zero":false,"padding":0},"axis":null},
  "y":{"field":"l","type":"quantitative","scale":{"domain":[1.07477,1.0984],"nice":false,"zero":false,"padding":0},"axis":null},
  "y2":{"field":"h"},
  "color":{"condition":[{"test":"datum.c > datum.o","value":"#ff0000"},{"test":"datum.c < datum.o","value":"#0000ff"}],"value":"#000000"}}},
{"data":{"name":"k"},"mark":{"type":"bar","size":3},
 "encoding":{"x":{"field":"i","type":"quantitative","scale":{"domain":[-0.125,462.875],"nice":false,"zero":false,"padding":0},"axis":null},
  "y":{"field":"o","type":"quantitative","scale":{"domain":[1.07477,1.0984],"nice":false,"zero":false,"padding":0},"axis":null},
  "y2":{"field":"c"},
  "color":{"condition":[{"test":"datum.c > datum.o","value":"#ff0000"},{"test":"datum.c < datum.o","value":"#0000ff"}],"value":"#000000"}}},
{"data":{"name":"k"},"mark":{"type":"tick","orient":"horizontal","size":3,"thickness":1},
 "encoding":{"x":{"field":"i","type":"quantitative","scale":{"domain":[-0.125,462.875],"nice":false,"zero":false,"padding":0},"axis":null},
  "y":{"field":"c","type":"quantitative","scale":{"domain":[1.07477,1.0984],"nice":false,"zero":false,"padding":0},"axis":null},
  "color":{"condition":[{"test":"datum.c > datum.o","value":"#ff0000"},{"test":"datum.c < datum.o","value":"#0000ff"}],"value":"#000000"}}},
{"data":{"name":"lv"},"transform":[{"filter":"datum.lab != '1.09171'"}],"mark":{"type":"rule","strokeWidth":2},
 "encoding":{"y":{"field":"p","type":"quantitative","scale":{"domain":[1.07477,1.0984],"nice":false,"zero":false,"padding":0},"axis":null},
  "color":{"field":"lab","type":"nominal","scale":{"domain":["1.09506","1.09171","1.09006","1.08608","1.08502","1.08242"],"range":["#ff0000","#000000","#ff0000","#0000ff","#008000","#0000ff"]},"legend":null}}},
{"data":{"name":"tr"},"mark":{"type":"line","color":"#000000","strokeWidth":1.4},
 "encoding":{"x":{"field":"i","type":"quantitative","scale":{"domain":[-0.125,462.875],"nice":false,"zero":false,"padding":0},"axis":null},
  "y":{"field":"p","type":"quantitative","scale":{"domain":[1.07477,1.0984],"nice":false,"zero":false,"padding":0},"axis":null}}},
{"data":{"name":"ar"},"mark":{"type":"trail","color":"#000000"},
 "encoding":{"x":{"field":"i","type":"quantitative","scale":{"domain":[-0.125,462.875],"nice":false,"zero":false,"padding":0},"axis":null},
  "y":{"field":"p","type":"quantitative","scale":{"domain":[1.07477,1.0984],"nice":false,"zero":false,"padding":0},"axis":null},
  "detail":{"field":"seg","type":"nominal"},
  "order":{"field":"k","type":"quantitative"},
  "size":{"field":"k","type":"quantitative","scale":{"domain":[0,1],"range":[0.8,4.6]},"legend":null}}},
{"data":{"name":"hd"},"mark":{"type":"point","shape":"M0,-1L0.6,1L0,0.55L-0.6,1Z","size":256,"filled":true,"color":"#000000","opacity":1,"strokeWidth":0},
 "encoding":{"x":{"field":"i","type":"quantitative","scale":{"domain":[-0.125,462.875],"nice":false,"zero":false,"padding":0},"axis":null},
  "y":{"field":"p","type":"quantitative","scale":{"domain":[1.07477,1.0984],"nice":false,"zero":false,"padding":0},"axis":null},
  "angle":{"field":"ang","type":"quantitative","scale":null}}},
{"data":{"values":[{}]},"mark":{"type":"text","align":"left","baseline":"alphabetic","font":"Noto Sans CJK SC","fontSize":29,"color":"#000000"},
 "encoding":{"x":{"datum":31.54,"type":"quantitative","scale":{"domain":[-0.125,462.875],"nice":false,"zero":false,"padding":0},"axis":null},
  "y":{"datum":1.09734,"type":"quantitative","scale":{"domain":[1.07477,1.0984],"nice":false,"zero":false,"padding":0},"axis":null},
  "text":{"value":"欧美一小时图表/闫瑞祥"}}},
{"data":{"name":"lv"},"mark":{"type":"bar","orient":"horizontal","size":10},
 "encoding":{"x":{"datum":463.2,"type":"quantitative","scale":{"domain":[-0.125,462.875],"nice":false,"zero":false,"padding":0},"axis":null},
  "x2":{"datum":473.5},
  "y":{"field":"p","type":"quantitative","scale":{"domain":[1.07477,1.0984],"nice":false,"zero":false,"padding":0},"axis":null},
  "color":{"field":"lab","type":"nominal","scale":{"domain":["1.09506","1.09171","1.09006","1.08608","1.08502","1.08242"],"range":["#ff0000","#000000","#ff0000","#0000ff","#008000","#0000ff"]},"legend":null}}},
{"data":{"name":"lv"},"mark":{"type":"text","align":"left","baseline":"middle","font":"Liberation Sans","fontSize":10,"color":"#ffffff"},
 "encoding":{"x":{"datum":463.875,"type":"quantitative","scale":{"domain":[-0.125,462.875],"nice":false,"zero":false,"padding":0},"axis":null},
  "y":{"field":"p","type":"quantitative","scale":{"domain":[1.07477,1.0984],"nice":false,"zero":false,"padding":0},"axis":null},
  "text":{"field":"lab"}}}
]
}
